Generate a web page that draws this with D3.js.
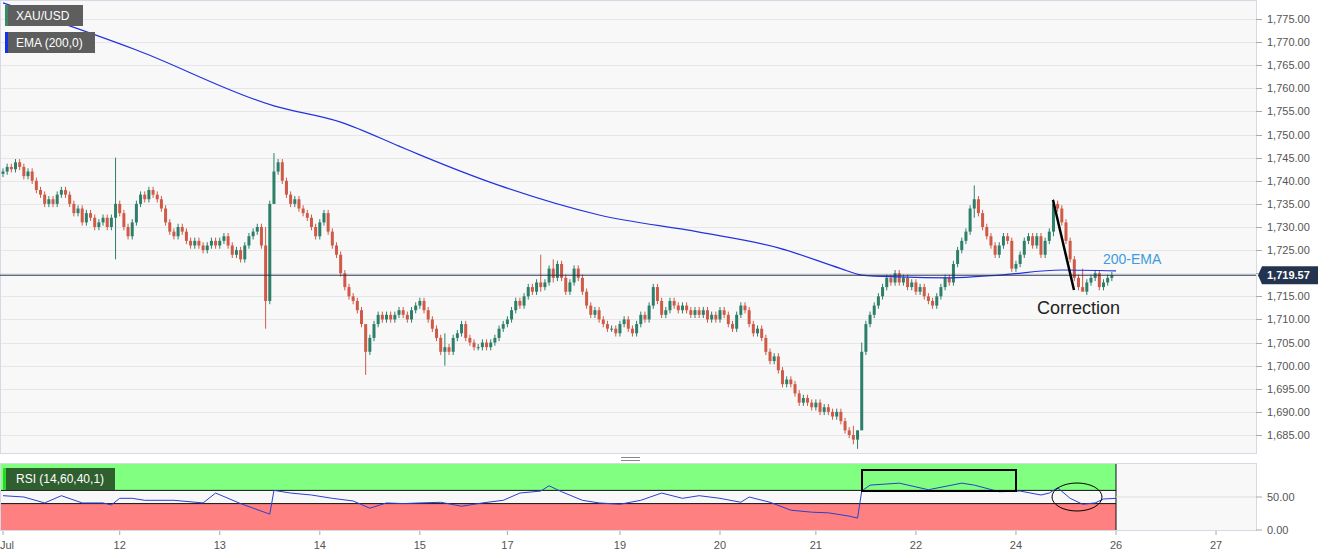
<!DOCTYPE html>
<html><head><meta charset="utf-8">
<script src="https://cdn.jsdelivr.net/npm/d3@7"></script>
<style>body{margin:0;background:#fff;font-family:"Liberation Sans",Arial,sans-serif}</style>
</head><body><svg id="chart" width="1331" height="558"></svg>
<script>
// hourly closes, one array per trading day
var closes = [].concat(
  [1742,1743,1742.5,1744,1743,1741,1742,1740,1738,1737,1735,1736,1735,1737,1738,1737,1735,1733,1734,1731,1733,1732,1730,1731,1732,1730,1732,1735],
  [1733,1730,1728,1731,1735,1737,1736,1738,1737,1736,1734,1731,1729,1728,1730,1729,1727,1726,1727,1726,1725,1726,1727,1726],
  [1727,1728,1726,1724,1725,1723,1726,1728,1729,1730,1726,1714,1735,1742,1744,1740,1737,1735,1736,1734,1733,1732,1730,1728],
  [1731,1733,1729,1726,1724,1720,1717,1715,1714,1712,1709,1703,1706,1709,1711,1710,1711,1710,1711,1712,1711,1710,1712,1713],
  [1714,1712,1710,1708,1706,1703,1704,1703,1706,1707,1709,1706,1705,1704,1704,1705,1704,1705,1706,1708,1709],
  [1710,1712,1714,1713,1715,1717,1716,1718,1717,1718,1721,1719,1722,1719,1716,1718,1721,1719,1716,1713,1711,1712,1710,1709,1708,1708,1707],
  [1709,1710,1708,1707,1709,1711,1710,1713,1717,1714,1711,1712,1714,1713,1712,1713,1712,1711,1712,1711,1712,1710,1711,1710],
  [1712,1711,1709,1708,1711,1713,1712,1709,1707,1708,1706,1703,1701,1702,1699,1696,1697,1696,1694,1692,1693,1692,1691],
  [1692,1690,1691,1690,1689,1690,1688,1686,1685,1684,1686,1703,1709,1711,1713,1715,1717,1719,1718,1720,1718,1719,1717,1718],
  [1716,1717,1715,1714,1713,1715,1717,1719,1718,1722,1725,1727,1729,1734,1736,1733,1730,1728,1726,1724,1726,1728,1727,1721],
  [1722,1724,1727,1728,1726,1728,1724,1727,1729,1735,1734,1731,1727,1723,1719,1717,1716,1718,1719,1720,1717,1718,1719,1719.57]
);
// notable wick extremes [index, high, low]
var wicks = [[27,1745,1723],[63,1730,1708],[65,1746,1735],[87,1706,1698],[106,1707,1700],[129,1724,1716],[132,1723,1718],
  [204,1687,1683],[205,1686,1682],[206,1705,1693],[233,1739,1732],[252,1736,1728],[259,1721,1717]];
var emaPts = [[0,1778.5],[32,1768.3],[65,1756.2],[81,1752.7],[95,1747.5],[100,1745.6],[119,1739],[143,1732.6],[167,1728.9],
  [186,1725.5],[201,1721],[206,1719.6],[215,1719.2],[227,1719],[239,1719.6],[254,1720.7],[267,1720.5]];
var rsiPts = [[0,52],[5,50],[10,41],[14,52],[19,41],[24,41],[26,38],[28,48],[31,48],[34,45],[41,45],[48,41],[51,56],[57,40],
  [64,24],[65,60],[69,56],[74,53],[79,48],[84,44],[88,33],[92,41],[96,40],[100,41],[105,42],[110,36],[115,41],[120,45],
  [124,56],[129,59],[131,67],[134,58],[139,45],[143,41],[148,39],[153,45],[158,56],[163,48],[167,52],[172,48],[177,42],
  [179,50],[184,42],[189,30],[194,27],[198,26],[203,21],[205,18],[206,59],[208,68],[215,71],[222,61],[230,71],[233,68],
  [239,58],[244,59],[249,53],[251,56],[253,64],[256,48],[259,39],[262,41],[264,47],[267,48]];
var dayTicks = [[0,"Jul"],[28,"12"],[52,"13"],[76,"14"],[100,"15"],[121,"17"],[148,"19"],[172,"20"],[195,"21"],[219,"22"],[243,"24"],[267,"26"],[291,"27"]];
var priceTicks = d3.range(1685, 1776, 5);
var lastPrice = 1719.57;

var svg = d3.select("#chart");
var x = d3.scaleLinear().domain([0, 267]).range([3, 1116]);
var y = d3.scaleLinear().domain([1685, 1775]).range([435, 19]);
var yr = d3.scaleLinear().domain([0, 100]).range([530, 464]);
var fmt = d3.format(",.2f");

// panels
svg.append("rect").attr("x",0.5).attr("y",0.5).attr("width",1256).attr("height",453).attr("fill","#f8f8f8").attr("stroke","#d6d9e3");
svg.append("rect").attr("x",0.5).attr("y",463.5).attr("width",1256).attr("height",67).attr("fill","#f8f8f8").attr("stroke","#d6d9e3");
svg.append("line").attr("x1",621).attr("x2",640).attr("y1",457.5).attr("y2",457.5).attr("stroke","#888");
svg.append("line").attr("x1",621).attr("x2",640).attr("y1",460.5).attr("y2",460.5).attr("stroke","#888");

// grid + price axis
svg.selectAll(".grid").data(priceTicks).enter().append("line")
  .attr("x1",1).attr("x2",1256).attr("y1",d=>Math.round(y(d))+0.5).attr("y2",d=>Math.round(y(d))+0.5)
  .attr("stroke","#e6e6e6");
svg.selectAll(".ptick").data(priceTicks).enter().append("line")
  .attr("x1",1256).attr("x2",1262).attr("y1",d=>Math.round(y(d))+0.5).attr("y2",d=>Math.round(y(d))+0.5).attr("stroke","#aaa");
svg.selectAll(".plab").data(priceTicks).enter().append("text")
  .attr("x",1267).attr("y",d=>y(d)+4).attr("font-size",11).attr("fill","#555").text(d=>fmt(d));

// candles
var candles = closes.map(function(c, i){
  var o = i ? closes[i-1] : c - 0.5;
  var h = Math.max(o,c)+0.7, l = Math.min(o,c)-0.7;
  wicks.forEach(function(w){ if(w[0]==i){ h=w[1]; l=w[2]; } });
  return {i:i,o:o,c:c,h:h,l:l};
});
var g = svg.append("g");
g.selectAll(".wick").data(candles).enter().append("line")
  .attr("x1",d=>x(d.i)).attr("x2",d=>x(d.i)).attr("y1",d=>y(d.h)).attr("y2",d=>y(d.l))
  .attr("stroke",d=>d.c>=d.o?"#2e7f6a":"#d05a48").attr("stroke-width",1);
g.selectAll(".body").data(candles).enter().append("rect")
  .attr("x",d=>x(d.i)-1.5).attr("width",3)
  .attr("y",d=>y(Math.max(d.o,d.c))).attr("height",d=>Math.max(1,Math.abs(y(d.o)-y(d.c))))
  .attr("fill",d=>d.c>=d.o?"#2e7f6a":"#d05a48");

// EMA
svg.append("path").datum(emaPts).attr("fill","none").attr("stroke","#2233dd").attr("stroke-width",1.2)
  .attr("d", d3.line().x(d=>x(d[0])).y(d=>y(d[1])).curve(d3.curveMonotoneX));

// last price line + label
svg.append("line").attr("x1",0).attr("x2",1256).attr("y1",y(lastPrice)).attr("y2",y(lastPrice)).attr("stroke","#23304f");
svg.append("path").attr("d","M1262,"+(y(lastPrice)-9)+"h56v18h-56l-4,-9z").attr("fill","#24344f");
svg.append("text").attr("x",1267).attr("y",y(lastPrice)+4).attr("font-size",11).attr("font-weight","bold").attr("fill","#fff").text(fmt(lastPrice));

// annotations
svg.append("line").attr("x1",1053).attr("y1",200).attr("x2",1074).attr("y2",290).attr("stroke","#000").attr("stroke-width",2.5);
svg.append("text").attr("x",1037).attr("y",314).attr("font-size",18).attr("fill","#222").text("Correction");
svg.append("text").attr("x",1103).attr("y",264).attr("font-size",14).attr("fill","#3d9be0").text("200-EMA");

// legends
function legend(yy, w, label, stripe){
  svg.append("rect").attr("x",5).attr("y",yy).attr("width",w).attr("height",21).attr("fill","#5e5e5e");
  svg.append("rect").attr("x",5).attr("y",yy).attr("width",3).attr("height",21).attr("fill",stripe);
  svg.append("text").attr("x",16).attr("y",yy+15).attr("font-size",12).attr("fill","#fff").text(label);
}
legend(5, 78, "XAU/USD", "#3a8a6a");
legend(32, 90, "EMA (200,0)", "#1133ee");

// RSI panel
svg.append("rect").attr("x",1).attr("y",yr(100)).attr("width",x(267)-1).attr("height",yr(60)-yr(100)).attr("fill","#80ff80");
svg.append("rect").attr("x",1).attr("y",yr(40)).attr("width",x(267)-1).attr("height",yr(0)-yr(40)).attr("fill","#ff8080");
[60,40].forEach(function(v){
  svg.append("line").attr("x1",1).attr("x2",x(267)).attr("y1",yr(v)).attr("y2",yr(v)).attr("stroke","#111");
});
svg.append("line").attr("x1",x(267)).attr("x2",x(267)).attr("y1",yr(100)).attr("y2",yr(0)).attr("stroke","#111");
svg.append("line").attr("x1",x(267)).attr("x2",1256).attr("y1",yr(50)).attr("y2",yr(50)).attr("stroke","#ddd");
[0,50].forEach(function(v){
  svg.append("line").attr("x1",1256).attr("x2",1262).attr("y1",yr(v)).attr("y2",yr(v)).attr("stroke","#aaa");
  svg.append("text").attr("x",1267).attr("y",yr(v)+4).attr("font-size",11).attr("fill","#555").text(fmt(v));
});
svg.append("path").datum(rsiPts).attr("fill","none").attr("stroke","#2a3fd0").attr("stroke-width",1)
  .attr("d", d3.line().x(d=>x(d[0])).y(d=>yr(d[1])));
svg.append("rect").attr("x",3).attr("y",468).attr("width",112).attr("height",22).attr("fill","#2f5f2f");
svg.append("rect").attr("x",3).attr("y",468).attr("width",3).attr("height",22).attr("fill","#22dd22");
svg.append("text").attr("x",16).attr("y",483).attr("font-size",12).attr("fill","#fff").text("RSI (14,60,40,1)");
svg.append("rect").attr("x",862).attr("y",470).attr("width",154).attr("height",21).attr("fill","none").attr("stroke","#000").attr("stroke-width",2);
svg.append("ellipse").attr("cx",1077).attr("cy",497).attr("rx",25).attr("ry",14).attr("fill","none").attr("stroke","#000").attr("stroke-width",1);

// time axis
svg.selectAll(".dt").data(dayTicks).enter().append("line")
  .attr("x1",d=>x(d[0])).attr("x2",d=>x(d[0])).attr("y1",531).attr("y2",535).attr("stroke","#aaa");
svg.selectAll(".dl").data(dayTicks).enter().append("text")
  .attr("x",d=>d[0]==0?0:x(d[0])).attr("y",549).attr("font-size",11).attr("fill","#555")
  .attr("text-anchor",d=>d[0]==0?"start":"middle").text(d=>d[1]);
</script></body></html>
